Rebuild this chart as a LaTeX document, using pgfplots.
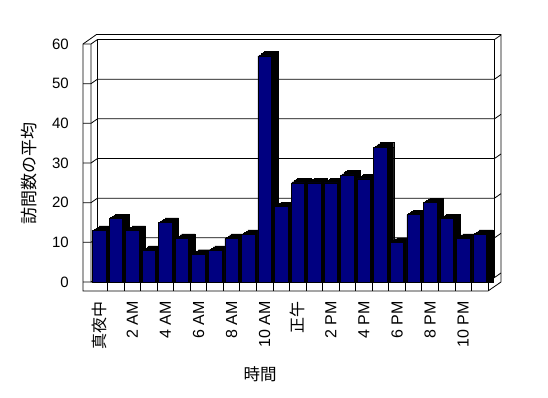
\documentclass[border=0pt]{standalone}
\usepackage{pgfplots}
\usepackage{pgfplotstable}
\pgfplotsset{compat=1.18}
\usepackage{fontspec}
\setmainfont{Liberation Sans}
\newfontfamily\jp{Noto Sans CJK JP}
\definecolor{barblue}{RGB}{0,0,128}
\pgfplotstableread{
x y
0 13
1 16
2 13
3 8
4 15
5 11
6 7
7 8
8 11
9 12
10 57
11 19
12 25
13 25
14 25
15 27
16 26
17 34
18 10
19 17
20 20
21 16
22 11
23 12
}\visits
\begin{document}
\begin{tikzpicture}
\useasboundingbox (0,0) rectangle (548pt,398pt);
\begin{axis}[
  at={(91pt,116pt)}, anchor=south west,
  scale only axis, width=397pt, height=238pt,
  xmin=-0.5, xmax=23.5, ymin=0, ymax=60,
  enlargelimits=false, clip=false,
  axis line style={draw=none}, major tick length=0pt,
  ytick={0,10,...,60}, xtick={0,2,...,22},
  xticklabels={{\jp 真夜中},2 AM,4 AM,6 AM,8 AM,10 AM,{\jp 正午},2 PM,4 PM,6 PM,8 PM,10 PM},
  xticklabel style={rotate=90, anchor=east, inner sep=0pt, font=\fontsize{16}{16}\selectfont},
  xticklabel shift=19pt,
  yticklabel style={anchor=east, inner sep=0pt, font=\fontsize{15}{15}\selectfont},
  yticklabel shift=22pt,
  /pgf/number format/assume math mode=true,
  ybar, bar width=13.5pt,
]
% frame
\draw[line width=0.8pt]
  ([shift={(-8pt,0pt)}]axis cs:-0.5,60) -- ([shift={(5.5pt,9.5pt)}]axis cs:-0.5,60)
  -- ([shift={(13pt,9.5pt)}]axis cs:23.5,60) -- ([shift={(13pt,0pt)}]axis cs:23.5,0)
  -- ([shift={(0pt,-9pt)}]axis cs:23.5,0) -- ([shift={(-8pt,-9pt)}]axis cs:-0.5,0) -- cycle;
\draw[line width=0.8pt] (axis cs:-0.5,60) -- (axis cs:-0.5,0) -- (axis cs:23.5,0)
  -- ([shift={(6.5pt,4.5pt)}]axis cs:23.5,0) -- ([shift={(6.5pt,4.5pt)}]axis cs:23.5,60);
\draw[line width=0.8pt] ([shift={(6.5pt,4.5pt)}]axis cs:-0.5,0) -- ([shift={(6.5pt,4.5pt)}]axis cs:-0.5,60);
\draw[line width=0.8pt] (axis cs:23.5,0) -- ([shift={(0pt,-9pt)}]axis cs:23.5,0);
\pgfplotsinvokeforeach{0.5,1.5,...,22.5}{
  \draw[line width=0.8pt] (axis cs:#1,0) -- ([shift={(0pt,-9pt)}]axis cs:#1,0);
}
\pgfplotsinvokeforeach{0,10,20,30,40,50,60}{
  \draw[line width=0.8pt] ([shift={(-8pt,0pt)}]axis cs:-0.5,#1) -- (axis cs:-0.5,#1)
    -- ([shift={(6.5pt,4.5pt)}]axis cs:-0.5,#1) -- ([shift={(6.5pt,4.5pt)}]axis cs:23.5,#1)
    -- ([shift={(13pt,9pt)}]axis cs:23.5,#1);
}
% bar depth
\addplot[fill=black, draw=black, bar shift=0pt, shift={(6.5pt,0pt)}] table {\visits};
\addplot[fill=black, draw=black, bar shift=0pt, shift={(1.625pt,1.125pt)}] table {\visits};
\addplot[fill=black, draw=black, bar shift=0pt, shift={(3.25pt,2.25pt)}] table {\visits};
\addplot[fill=black, draw=black, bar shift=0pt, shift={(4.875pt,3.375pt)}] table {\visits};
\addplot[fill=black, draw=black, bar shift=0pt, shift={(6.5pt,4.5pt)}] table {\visits};
% bar faces
\addplot[fill=barblue, draw=black, line width=0.6pt, bar shift=0pt] table {\visits};
\end{axis}
\node[rotate=90, font=\jp\fontsize{17}{17}\selectfont] at (29pt,174pt+50pt) {訪問数の平均};
\node[font=\jp\fontsize{16.5}{16.5}\selectfont] at (260pt,24pt) {時間};
\end{tikzpicture}
\end{document}
